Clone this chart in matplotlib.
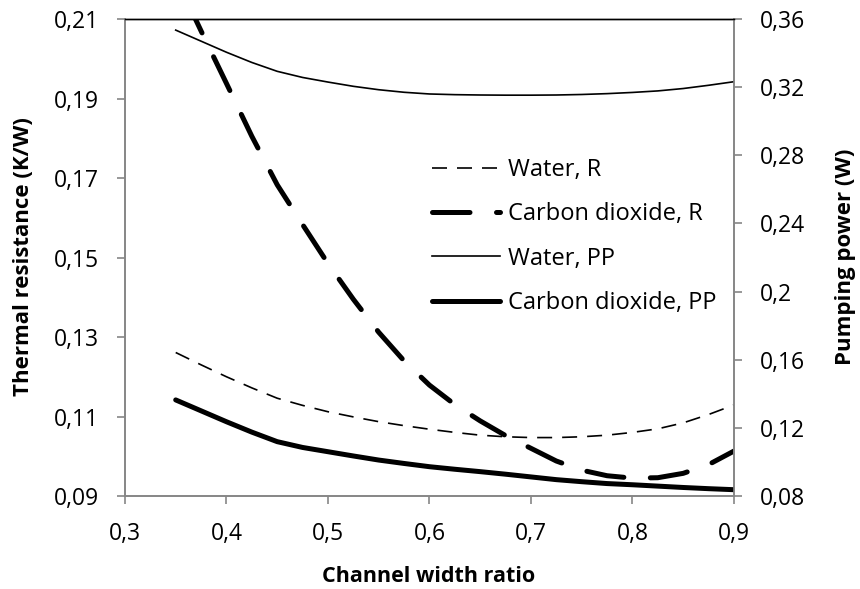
import matplotlib
matplotlib.use('Agg')
import matplotlib.pyplot as plt
import matplotlib.ticker as mticker
import numpy as np

plt.rcParams['font.family'] = ['Open Sans', 'DejaVu Sans']

# channel width ratio
width_ratio = [0.350, 0.375, 0.400, 0.425, 0.450, 0.475, 0.500, 0.525,
               0.550, 0.575, 0.600, 0.625, 0.650, 0.675, 0.700, 0.725,
               0.750, 0.775, 0.800, 0.825, 0.850, 0.875, 0.900]

# thermal resistance (K/W), left axis
water_r = [0.1261, 0.1230, 0.1200, 0.1172, 0.1146, 0.1128, 0.1112, 0.1099,
           0.1087, 0.1077, 0.1068, 0.1060, 0.1053, 0.1049, 0.1047, 0.1047,
           0.1049, 0.1053, 0.1060, 0.1069, 0.1084, 0.1105, 0.1129]
co2_r = [0.2205, 0.2070, 0.1938, 0.1805, 0.1683, 0.1583, 0.1485, 0.1395,
         0.1312, 0.1240, 0.1179, 0.1130, 0.1089, 0.1052, 0.1020, 0.0988,
         0.0965, 0.0951, 0.0945, 0.0946, 0.0957, 0.0979, 0.1013]

# pumping power (W), right axis
water_pp = [0.3535, 0.3470, 0.3405, 0.3345, 0.3293, 0.3257, 0.3230, 0.3205,
            0.3185, 0.3170, 0.3160, 0.3156, 0.3154, 0.3153, 0.3153, 0.3154,
            0.3157, 0.3162, 0.3169, 0.3178, 0.3192, 0.3211, 0.3232]
co2_pp = [0.1364, 0.1300, 0.1236, 0.1175, 0.1119, 0.1085, 0.1060, 0.1035,
          0.1011, 0.0991, 0.0972, 0.0957, 0.0943, 0.0928, 0.0912, 0.0896,
          0.0884, 0.0873, 0.0866, 0.0858, 0.0850, 0.0843, 0.0837]

labels = ['Water, R', 'Carbon dioxide, R', 'Water, PP', 'Carbon dioxide, PP']

fig = plt.figure(figsize=(8.6, 5.89), dpi=100)
ax = fig.add_axes([0.1453, 0.1579, 0.7081, 0.8098])
ax2 = ax.twinx()

l1, = ax.plot(width_ratio, water_r, color='black', lw=1.2,
              dashes=(9, 6), label=labels[0])
l2, = ax.plot(width_ratio, co2_r, color='black', lw=3.6,
              dashes=(7.5, 5.3), dash_capstyle='round', label=labels[1])
l3, = ax2.plot(width_ratio, water_pp, color='black', lw=1.2, label=labels[2])
l4, = ax2.plot(width_ratio, co2_pp, color='black', lw=3.6,
               solid_capstyle='round', label=labels[3])

ax.set_xlim(0.3, 0.9)
ax.set_ylim(0.09, 0.21)
ax2.set_ylim(0.08, 0.36)
ax.set_xticks(np.arange(0.3, 0.91, 0.1))
ax.set_yticks(np.arange(0.09, 0.211, 0.02))
ax2.set_yticks(np.arange(0.08, 0.361, 0.04))

comma = mticker.FuncFormatter(lambda v, p: ('%g' % round(v, 3)).replace('.', ','))
ax.xaxis.set_major_formatter(comma)
ax.yaxis.set_major_formatter(comma)
ax2.yaxis.set_major_formatter(comma)

gray = '#868686'
for a in (ax, ax2):
    for s in ('left', 'right', 'bottom'):
        a.spines[s].set_color(gray)
        a.spines[s].set_linewidth(1.2)
    a.spines['top'].set_color('black')
    a.spines['top'].set_linewidth(1.0)
    a.tick_params(direction='out', length=6, width=1.2, color=gray,
                  labelsize=16.5, pad=13)

fig.text(24 / 860, 1 - 257 / 589, 'Thermal resistance (K/W)', rotation=90,
         ha='center', va='center', fontsize=16, fontweight='bold')
fig.text(846 / 860, 1 - 257 / 589, 'Pumping power (W)', rotation=90,
         ha='center', va='center', fontsize=16, fontweight='bold')
fig.text(429 / 860, 1 - 576 / 589, 'Channel width ratio',
         ha='center', va='center', fontsize=15.5, fontweight='bold')

leg = fig.legend(handles=[l1, l2, l3, l4], loc='upper left',
                 bbox_to_anchor=(432 / 860, 1 - 158 / 589), frameon=False,
                 fontsize=17, handlelength=2.9, handletextpad=0.3,
                 labelspacing=0.86, borderpad=0, borderaxespad=0)

fig.savefig('out.png', dpi=100)
